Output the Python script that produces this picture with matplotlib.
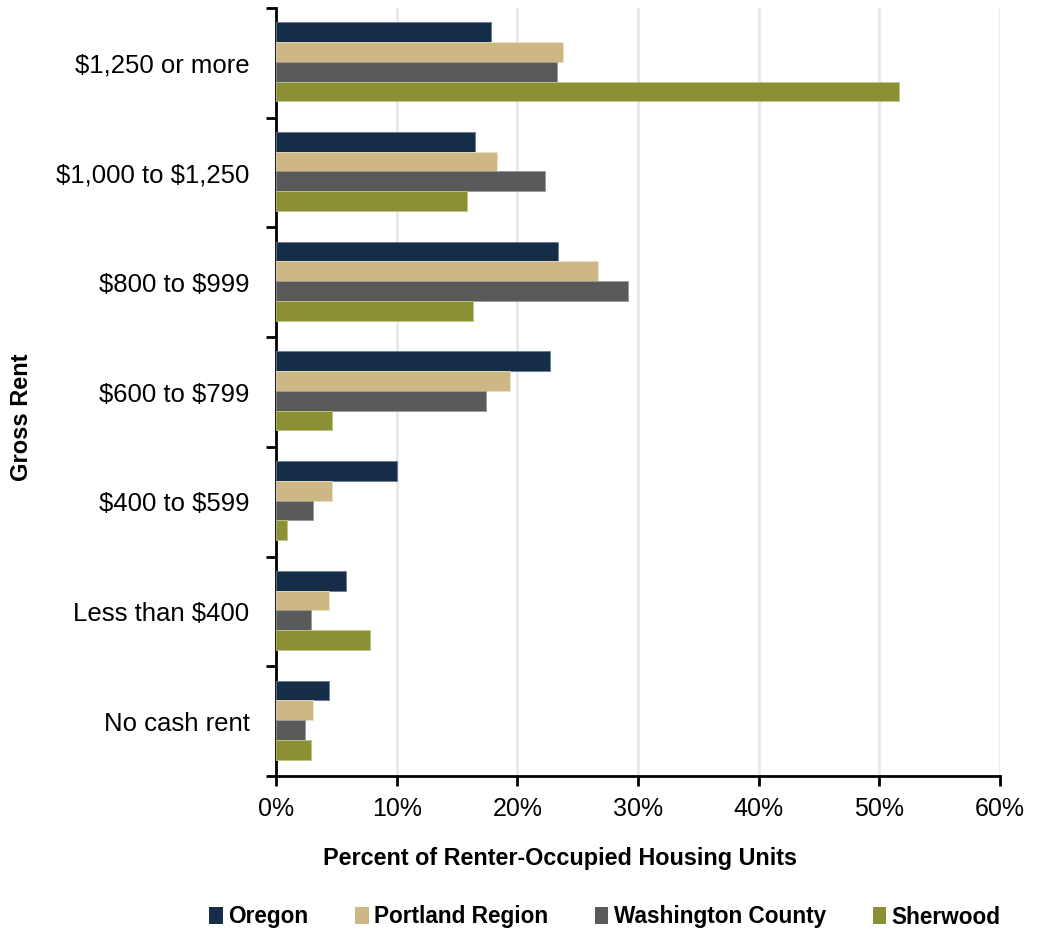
import matplotlib
matplotlib.use("Agg")
import matplotlib.pyplot as plt
from matplotlib.ticker import PercentFormatter
import numpy as np

plt.rcParams["text.parse_math"] = False

categories = ["$1,250 or more", "$1,000 to $1,250", "$800 to $999", "$600 to $799",
              "$400 to $599", "Less than $400", "No cash rent"]
series_names = ["Oregon", "Portland Region", "Washington County", "Sherwood"]
oregon = [17.8, 16.5, 23.4, 22.7, 10.0, 5.8, 4.4]
portland = [23.8, 18.3, 26.7, 19.4, 4.6, 4.4, 3.1]
washington = [23.3, 22.3, 29.2, 17.4, 3.1, 2.9, 2.4]
sherwood = [51.6, 15.8, 16.3, 4.6, 0.9, 7.8, 2.9]
x_ticks = [0, 10, 20, 30, 40, 50, 60]

colors = ["#162d48", "#cdb784", "#5a5a5a", "#8b9035"]
edge_colors = ["#6a7d92", "#ece0c0", "#9a9a9a", "#c0c480"]

regular = ["Liberation Sans", "DejaVu Sans"]

fig = plt.figure(figsize=(10.37, 9.34), dpi=100)
ax = fig.add_axes([276 / 1037, 1 - 776 / 934, (1000 - 276) / 1037, (776 - 8) / 934])

n = len(categories)
ypos = np.arange(n)[::-1]  # first category at top
bar_h = 0.18
data = [oregon, portland, washington, sherwood]
for i, (vals, name) in enumerate(zip(data, series_names)):
    offset = (1.5 - i) * bar_h + 0.01
    ax.barh(ypos + offset, vals, height=bar_h, color=colors[i],
            edgecolor=edge_colors[i], linewidth=0.6, label=name, zorder=3)

ax.set_xlim(0, 60)
ax.set_ylim(-0.5, n - 0.5)
ax.set_xticks(x_ticks)
ax.xaxis.set_major_formatter(PercentFormatter(decimals=0))
ax.grid(axis="x", color="#e8e8e8", linewidth=2, zorder=0)
ax.set_axisbelow(True)

# category labels centred, tick marks at band boundaries
ax.set_yticks(ypos)
ax.set_yticklabels(categories, fontfamily=regular, fontsize=18.5)
ax.tick_params(axis="y", which="major", length=0, pad=19)
ax.set_yticks(np.arange(n + 1) - 0.5, minor=True)
ax.tick_params(axis="y", which="minor", length=7, width=2, direction="out")
ax.tick_params(axis="x", length=7, width=2, direction="out", pad=8)
for lab in ax.get_xticklabels():
    lab.set_fontfamily(regular)
    lab.set_fontsize(18)

for s in ["top", "right"]:
    ax.spines[s].set_visible(False)
for s in ["left", "bottom"]:
    ax.spines[s].set_linewidth(2)
    ax.spines[s].set_color("black")

fig.text(560 / 1037, 1 - 858 / 934, "Percent of Renter-Occupied Housing Units",
         ha="center", va="center", fontsize=16.8, fontfamily=regular, fontweight="bold")
fig.text(22 / 1037, 1 - 417 / 934, "Gross Rent", rotation=90, ha="center", va="center",
         fontsize=17, fontfamily=regular, fontweight="bold")

handles, labels = ax.get_legend_handles_labels()
leg = fig.legend(handles, labels, loc="center", bbox_to_anchor=(605 / 1037, 1 - 917 / 934),
                 ncol=4, frameon=False, handlelength=0.6, handleheight=0.8,
                 handletextpad=0.25, columnspacing=2.05,
                 prop={"family": regular, "weight": "bold", "size": 16.3})
for h in leg.legend_handles:
    h.set_edgecolor("none")

fig.savefig("out.png", dpi=100)
